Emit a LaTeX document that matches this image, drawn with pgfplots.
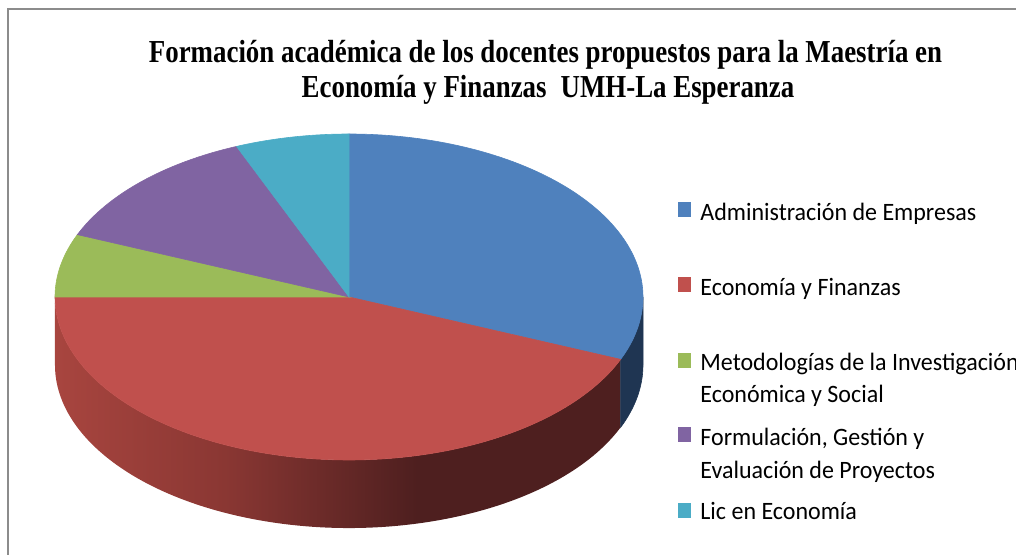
\documentclass[border=0pt]{standalone}
\usepackage{fontspec}
\usepackage{pgfplots}
\usepackage{pgfplotstable}
\pgfplotsset{compat=1.18}
\setmainfont{Liberation Serif}
\newfontfamily\titlefont[FakeStretch=0.84]{Liberation Serif}
\newfontfamily\legendfont[FakeStretch=0.96]{Carlito}

\definecolor{cBlue}{HTML}{4F81BD}
\definecolor{cRed}{HTML}{C0504D}
\definecolor{cGreen}{HTML}{9BBB59}
\definecolor{cPurple}{HTML}{8064A2}
\definecolor{cCyan}{HTML}{4BACC6}
\definecolor{cBlueSide}{HTML}{1F3552}
\definecolor{cRedSideL}{HTML}{A8453F}
\definecolor{cRedSideM}{HTML}{8A3733}
\definecolor{cRedSideD}{HTML}{4E1F1F}
\definecolor{frameGray}{HTML}{8C8C8C}

\pgfdeclarehorizontalshading{redside}{100bp}{color(0bp)=(cRedSideL); color(25bp)=(cRedSideL); color(40bp)=(cRedSideM); color(57bp)=(cRedSideD); color(100bp)=(cRedSideD)}

% number of lecturers per field (clockwise from 12 o'clock)
\pgfplotstableread{
slice count
0 5
1 7
2 1
3 2
4 1
}\datatable

\pgfplotstablegetelem{0}{count}\of\datatable\edef\nA{\pgfplotsretval}
\pgfplotstablegetelem{1}{count}\of\datatable\edef\nB{\pgfplotsretval}
\pgfplotstablegetelem{2}{count}\of\datatable\edef\nC{\pgfplotsretval}
\pgfplotstablegetelem{3}{count}\of\datatable\edef\nD{\pgfplotsretval}
\pgfplotstablegetelem{4}{count}\of\datatable\edef\nE{\pgfplotsretval}
\pgfmathsetmacro\total{\nA+\nB+\nC+\nD+\nE}
\pgfmathsetmacro\angA{90}
\pgfmathsetmacro\angB{\angA-360*\nA/\total}
\pgfmathsetmacro\angC{\angB-360*\nB/\total}
\pgfmathsetmacro\angD{\angC-360*\nC/\total}
\pgfmathsetmacro\angE{\angD-360*\nD/\total}
\pgfmathsetmacro\angF{\angE-360*\nE/\total}

\def\cx{349}
\def\cy{258}
\def\rx{294}
\def\ry{163}

\begin{document}
\begin{tikzpicture}
\useasboundingbox (0,0) rectangle (508pt,277.5pt);
\clip (0,0) rectangle (508pt,277.5pt);
\begin{axis}[
  at={(0pt,0pt)}, anchor=south west,
  x=0.5pt, y=0.5pt,
  xmin=0, xmax=1016, ymin=0, ymax=555,
  hide axis, clip=false,
]
% frame
\draw[frameGray, line width=0.85pt] (axis cs:8.2,0) -- (axis cs:8.2,545.8) -- (axis cs:1016,545.8);

% side walls
\addplot[shade, shading=redside, draw=none, domain=\angC:\angB, samples=120, variable=\t]
  ({\cx+\rx*cos(\t)}, {\cy+\ry*sin(\t)})
  -- ++(0pt,-34pt) arc[start angle=\angB, end angle=\angC, x radius=147pt, y radius=81.5pt] -- cycle;
\addplot[fill=cBlueSide, draw=cBlueSide, line width=0.3pt, domain=\angB:0, samples=40, variable=\t]
  ({\cx+\rx*cos(\t)}, {\cy+\ry*sin(\t)})
  -- ++(0pt,-34pt) arc[start angle=0, end angle=\angB, x radius=147pt, y radius=81.5pt] -- cycle;

% top faces
\addplot[fill=cBlue, draw=cBlue, line width=0.3pt, domain=\angB:\angA, samples=100, variable=\t]
  ({\cx+\rx*cos(\t)}, {\cy+\ry*sin(\t)}) -- (axis cs:\cx,\cy) -- cycle;
\addplot[fill=cRed, draw=cRed, line width=0.3pt, domain=\angC:\angB, samples=120, variable=\t]
  ({\cx+\rx*cos(\t)}, {\cy+\ry*sin(\t)}) -- (axis cs:\cx,\cy) -- cycle;
\addplot[fill=cGreen, draw=cGreen, line width=0.3pt, domain=\angD:\angC, samples=30, variable=\t]
  ({\cx+\rx*cos(\t)}, {\cy+\ry*sin(\t)}) -- (axis cs:\cx,\cy) -- cycle;
\addplot[fill=cPurple, draw=cPurple, line width=0.3pt, domain=\angE:\angD, samples=50, variable=\t]
  ({\cx+\rx*cos(\t)}, {\cy+\ry*sin(\t)}) -- (axis cs:\cx,\cy) -- cycle;
\addplot[fill=cCyan, draw=cCyan, line width=0.3pt, domain=\angF:\angE, samples=30, variable=\t]
  ({\cx+\rx*cos(\t)}, {\cy+\ry*sin(\t)}) -- (axis cs:\cx,\cy) -- cycle;

% title
\node[anchor=base, inner sep=0pt, font=\titlefont\bfseries\fontsize{16}{17.5}\selectfont]
  at (axis cs:545.5,492) {Formación académica de los docentes propuestos para la Maestría en};
\node[anchor=base, inner sep=0pt, font=\titlefont\bfseries\fontsize{16}{17.5}\selectfont]
  at (axis cs:548,457) {Economía y Finanzas\hspace{7pt}UMH-La Esperanza};

% legend
\fill[cBlue]   (axis cs:678,338) rectangle (axis cs:691,353);
\fill[cRed]    (axis cs:678,262.5) rectangle (axis cs:691,277.5);
\fill[cGreen]  (axis cs:678,187.3) rectangle (axis cs:691,202.3);
\fill[cPurple] (axis cs:678,113.3) rectangle (axis cs:691,128.3);
\fill[cCyan]   (axis cs:678,37.3) rectangle (axis cs:691,52.3);
\begin{scope}[every node/.style={anchor=base west, inner sep=0pt, text=black, font=\legendfont\fontsize{12.5}{14}\selectfont}]
\node at (axis cs:700,334.5) {Administración de Empresas};
\node at (axis cs:700,259.5) {Economía y Finanzas};
\node at (axis cs:700,184.5) {Metodologías de la Investigación};
\node at (axis cs:700,152) {Económica y Social};
\node at (axis cs:700,109) {Formulación, Gestión y};
\node at (axis cs:700,76) {Evaluación de Proyectos};
\node at (axis cs:700,35) {Lic en Economía};
\end{scope}
\end{axis}
\end{tikzpicture}
\end{document}
